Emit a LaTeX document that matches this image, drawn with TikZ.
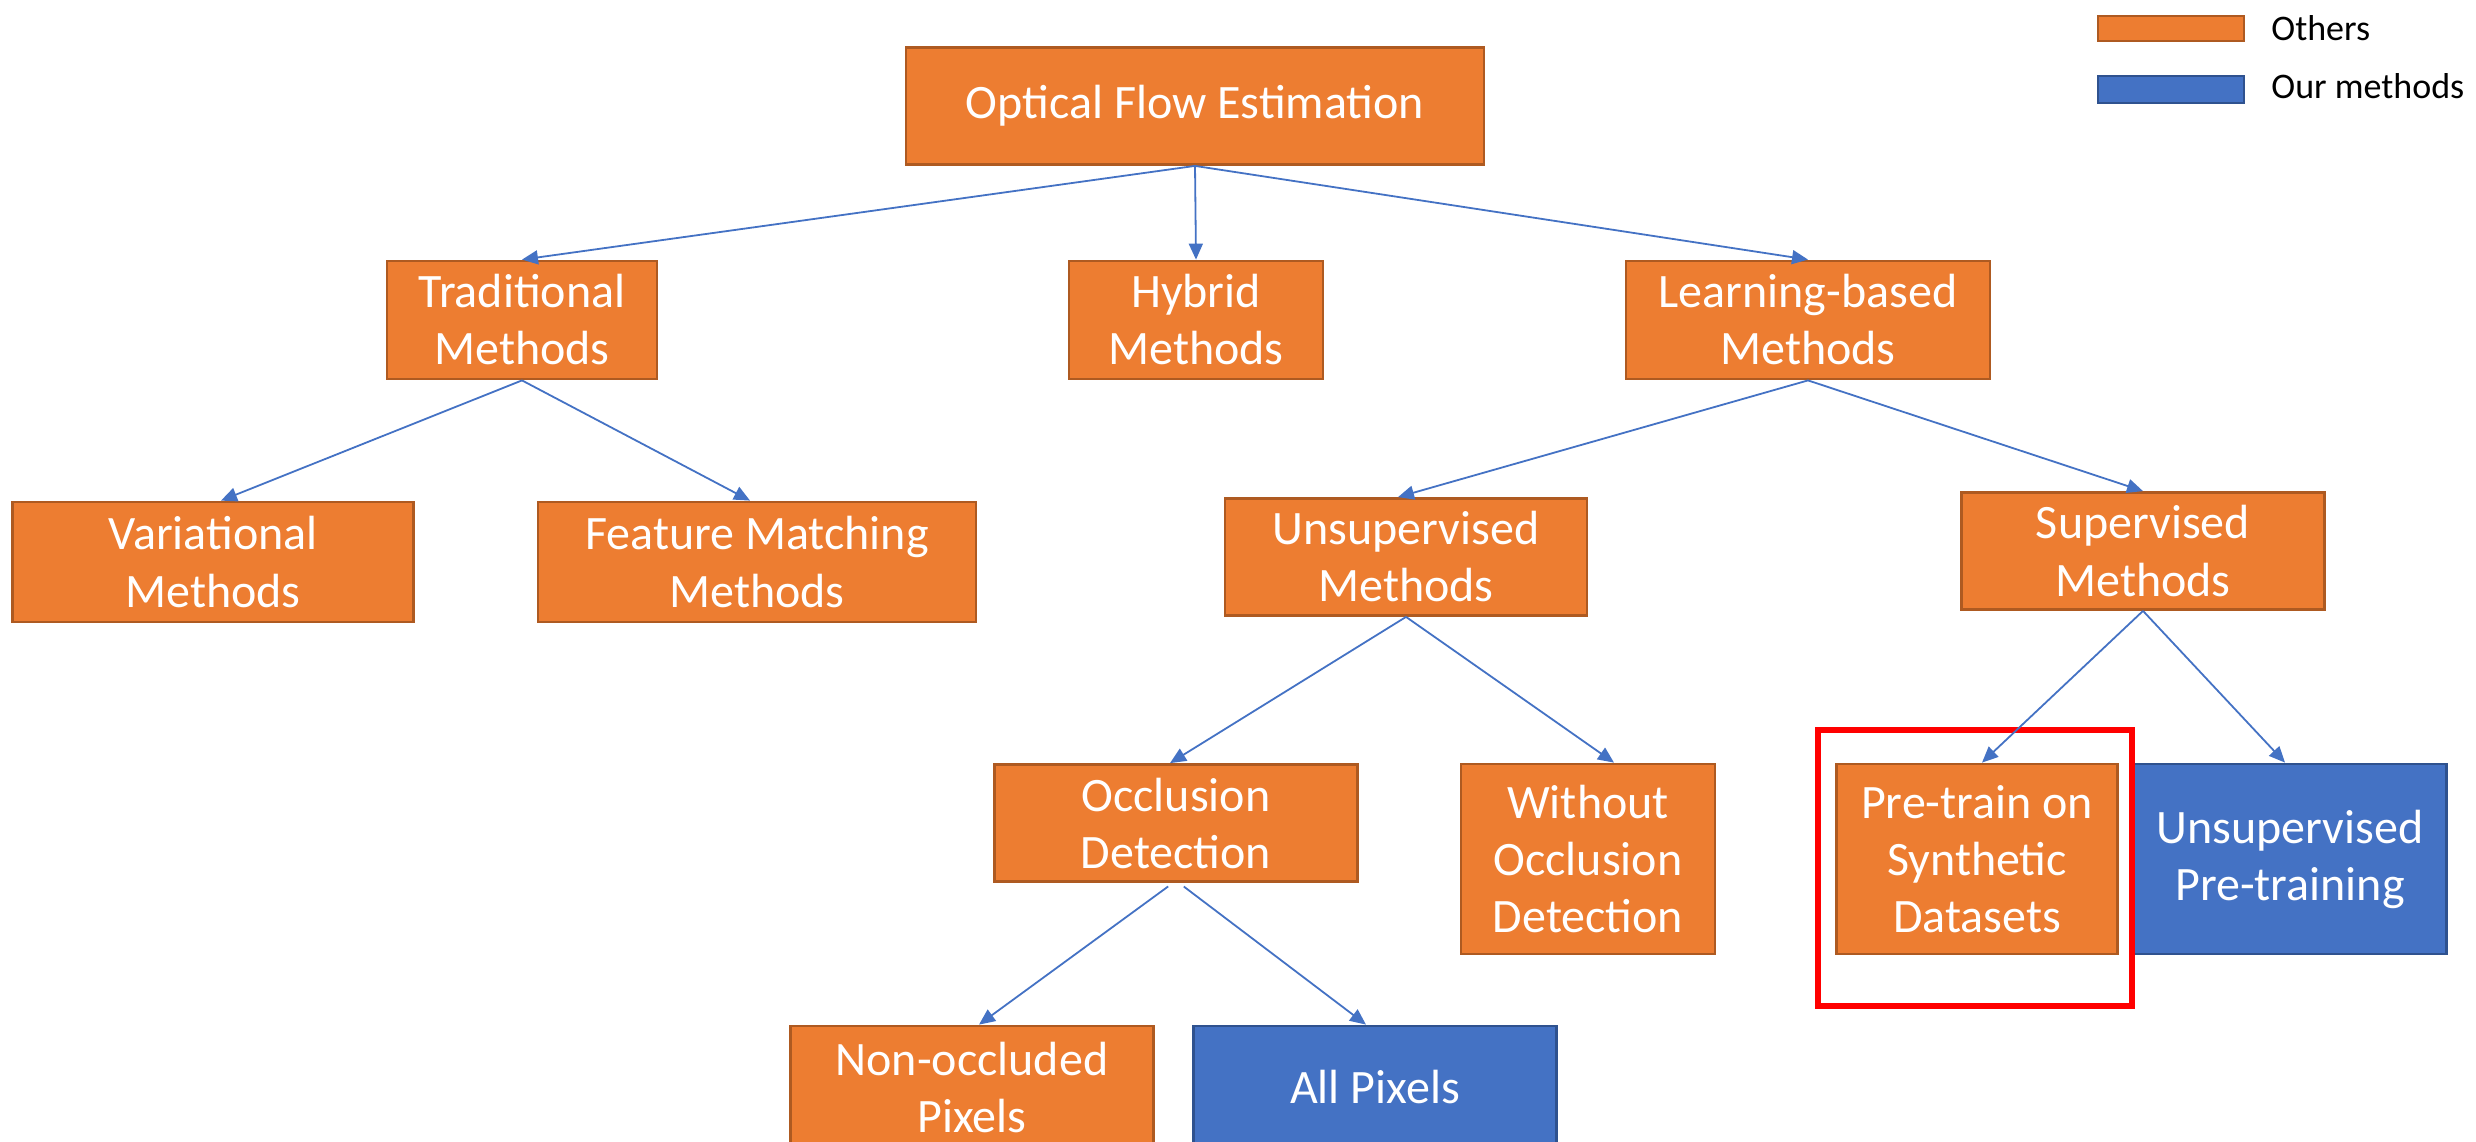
\documentclass[tikz,border=0pt]{standalone}
\usepackage{fontspec}
\setmainfont{Carlito}
\usetikzlibrary{arrows.meta}
\definecolor{boxorange}{HTML}{ED7D31}
\definecolor{edgeorange}{HTML}{AE5A21}
\definecolor{boxblue}{HTML}{4472C4}
\definecolor{edgeblue}{HTML}{2F528F}
\definecolor{linkblue}{HTML}{4472C4}
\tikzset{
  x=0.5pt, y=-0.5pt,
  base/.style={rectangle, inner sep=0pt, align=center, text=white,
    font=\fontsize{24}{28.5}\selectfont, line width=1.4pt},
  other/.style={base, fill=boxorange, draw=edgeorange},
  ours/.style={base, fill=boxblue, draw=edgeblue},
  link/.style={draw=linkblue, line width=0.9pt,
    -{Triangle[length=8pt,width=7pt]}},
  legtext/.style={anchor=west, inner sep=0pt, font=\fontsize{18}{21}\selectfont}
}
\begin{document}
\begin{tikzpicture}
\useasboundingbox (0,0) rectangle (2476,1141);
\clip (0,0) rectangle (2476,1141);

% legend
\node[other, minimum width=73pt, minimum height=12.5pt] (legO) at (2171,28.5) {};
\node[ours, minimum width=73pt, minimum height=13.5pt] (legB) at (2171,89.5) {};
\node[legtext] (legOt) at (2271,28.5) {Others};
\node[legtext] (legBt) at (2271,86) {Our methods};

% tree nodes
\node[other, minimum width=289pt, minimum height=58.5pt] (ofe) at (1195,106) {Optical Flow Estimation};

\node[other, minimum width=135pt, minimum height=59pt] (trad) at (522,320) {Traditional\\Methods};
\node[other, minimum width=127pt, minimum height=59pt] (hyb) at (1196,320) {Hybrid\\Methods};
\node[other, minimum width=182pt, minimum height=59pt] (lb) at (1808,320) {Learning-based\\Methods};

\node[other, minimum width=200.5pt, minimum height=60pt] (var) at (213,562) {Variational\\Methods};
\node[other, minimum width=219pt, minimum height=60pt] (fm) at (757,562) {Feature Matching\\Methods};
\node[other, minimum width=181pt, minimum height=58.5pt] (uns) at (1406,557) {Unsupervised\\Methods};
\node[other, minimum width=181.5pt, minimum height=58.5pt] (sup) at (2143,551) {Supervised\\Methods};

\node[other, minimum width=181.5pt, minimum height=58.5pt] (occ) at (1176,823) {Occlusion\\Detection};
\node[other, minimum width=127pt, minimum height=95pt] (woc) at (1588,859) {Without\\Occlusion\\Detection};
\node[other, minimum width=140.5pt, minimum height=95pt] (pre) at (1977,859) {Pre-train on\\Synthetic\\Datasets};
\node[ours, minimum width=156.5pt, minimum height=95pt] (upt) at (2290,859) {Unsupervised\\Pre-training};

\node[other, minimum width=181.5pt, minimum height=61pt] (nop) at (972,1087) {Non-occluded\\Pixels};
\node[ours, minimum width=181.5pt, minimum height=61pt] (allp) at (1375,1087) {All Pixels};

% highlight frame
\node[draw=red, line width=2.6pt, minimum width=157pt, minimum height=138pt, inner sep=0pt] (hl) at (1975,868) {};

% connectors
\draw[link] (ofe.south) -- (trad.north);
\draw[link] (ofe.south) -- (hyb.north);
\draw[link] (ofe.south) -- (lb.north);
\draw[link] (trad.south) -- ([xshift=4pt]var.north);
\draw[link] (trad.south) -- ([xshift=-3.5pt]fm.north);
\draw[link] (lb.south) -- ([xshift=-4pt]uns.north);
\draw[link] (lb.south) -- (sup.north);
\draw[link] (uns.south) -- ([xshift=-3pt]occ.north);
\draw[link] (uns.south) -- ([xshift=13pt]woc.north);
\draw[link] (sup.south) -- ([xshift=2.5pt]pre.north);
\draw[link] (sup.south) -- ([xshift=-2.5pt]upt.north);
\draw[link, shorten <=3pt] ([xshift=-1.5pt]occ.south) -- ([xshift=3.5pt]nop.north);
\draw[link, shorten <=3pt] ([xshift=1.5pt]occ.south) -- ([xshift=-4.5pt]allp.north);
\end{tikzpicture}
\end{document}
